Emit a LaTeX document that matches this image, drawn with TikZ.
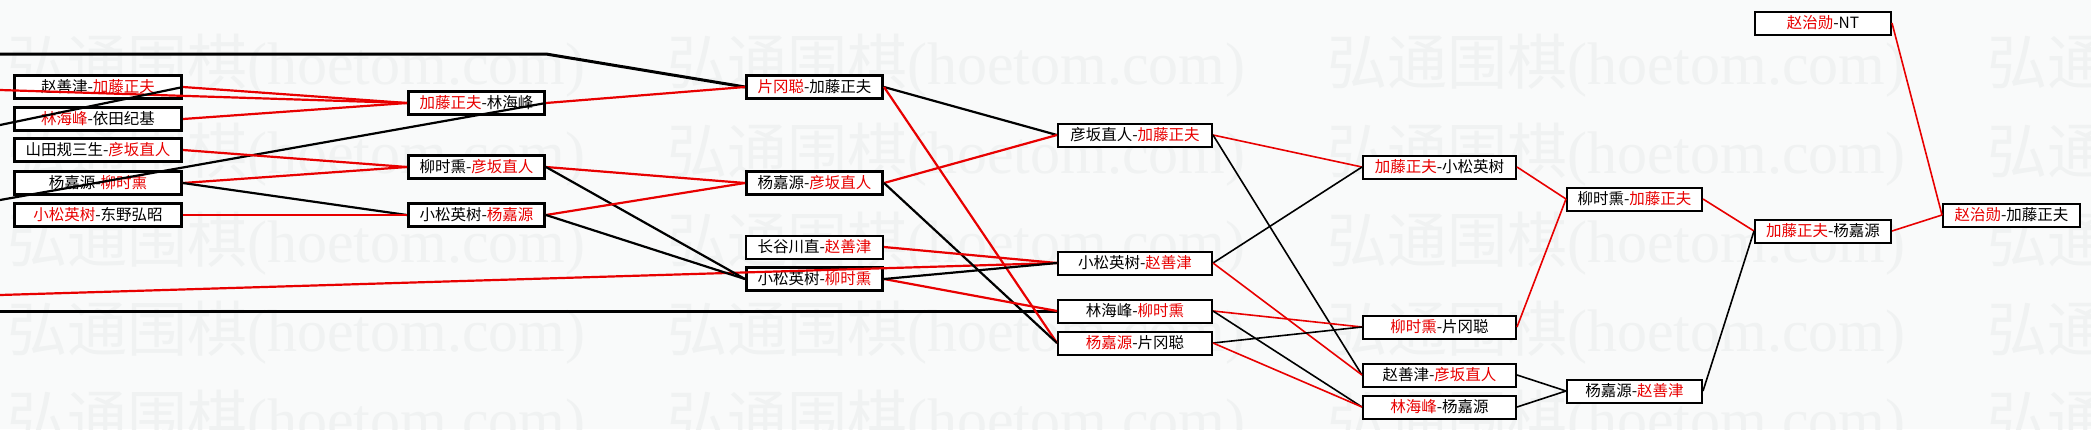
\documentclass[tikz,border=0pt]{standalone}
\usepackage{fontspec}
\setmainfont{Liberation Serif}
\newfontfamily\cjk{Noto Sans CJK SC}
\definecolor{hred}{RGB}{232,0,0}
\definecolor{paper}{RGB}{249,250,250}
\definecolor{wmark}{RGB}{240,242,242}
\newcommand{\wname}[1]{\textcolor{hred}{#1}}

\begin{document}
\begin{tikzpicture}[x=1pt, y=-1pt,
    game/.style={draw, fill=white, line width=2pt, inner sep=0pt, minimum height=23pt,
      font=\cjk\fontsize{15.5}{16}\selectfont},
    boldgame/.style={game, line width=3pt},
    win/.style={draw=hred, line width=2.2pt},
    lose/.style={draw=black, line width=2.2pt},
    thin/.style={line width=1.6pt}]
  \useasboundingbox (0,0) rectangle (2091,429);
  \begin{scope}
    \clip (0,0) rectangle (2091,429);
    \fill[paper] (0,0) rectangle (2091,429);
    \foreach \wy in {66,155,244,333,422}
      \foreach \wx in {7,667,1327,1987}
        \node[name=wm-\wy-\wx, anchor=west, inner sep=0pt, text=wmark,
          font=\fontsize{60}{60}\selectfont] at (\wx,\wy) {{\cjk 弘通围棋}(hoetom.com)};
  \end{scope}

  \node[boldgame, minimum width=167pt] (r1a) at (98,87)  {赵善津-\wname{加藤正夫}};
  \node[boldgame, minimum width=167pt] (r1b) at (98,119) {\wname{林海峰}-依田纪基};
  \node[boldgame, minimum width=167pt] (r1c) at (98,150) {山田规三生-\wname{彦坂直人}};
  \node[boldgame, minimum width=167pt] (r1d) at (98,183) {杨嘉源-\wname{柳时熏}};
  \node[boldgame, minimum width=167pt] (r1e) at (98,215) {\wname{小松英树}-东野弘昭};

  \node[boldgame, minimum width=136pt] (r2a) at (476.5,103) {\wname{加藤正夫}-林海峰};
  \node[boldgame, minimum width=136pt] (r2b) at (476.5,167) {柳时熏-\wname{彦坂直人}};
  \node[boldgame, minimum width=136pt] (r2c) at (476.5,215) {小松英树-\wname{杨嘉源}};

  \node[boldgame, minimum width=136pt] (r3a) at (814.5,87)  {\wname{片冈聪}-加藤正夫};
  \node[boldgame, minimum width=136pt] (r3b) at (814.5,183) {杨嘉源-\wname{彦坂直人}};
  \node[game, minimum width=137pt]     (r3c) at (814.5,247) {长谷川直-\wname{赵善津}};
  \node[boldgame, minimum width=136pt] (r3d) at (814.5,279) {小松英树-\wname{柳时熏}};

  \node[game, minimum width=154pt] (r4a) at (1135,135) {彦坂直人-\wname{加藤正夫}};
  \node[game, minimum width=154pt] (r4b) at (1135,263) {小松英树-\wname{赵善津}};
  \node[game, minimum width=154pt] (r4c) at (1135,311) {林海峰-\wname{柳时熏}};
  \node[game, minimum width=154pt] (r4d) at (1135,343) {\wname{杨嘉源}-片冈聪};

  \node[game, minimum width=153pt] (r5a) at (1439.5,167) {\wname{加藤正夫}-小松英树};
  \node[game, minimum width=153pt] (r5b) at (1439.5,327) {\wname{柳时熏}-片冈聪};
  \node[game, minimum width=153pt] (r5c) at (1439.5,375) {赵善津-\wname{彦坂直人}};
  \node[game, minimum width=153pt] (r5d) at (1439.5,407) {\wname{林海峰}-杨嘉源};

  \node[game, minimum width=135pt] (r6a) at (1634.5,199) {柳时熏-\wname{加藤正夫}};
  \node[game, minimum width=135pt] (r6b) at (1634.5,391) {杨嘉源-\wname{赵善津}};

  \node[game, minimum width=136pt] (r7a) at (1823,231) {\wname{加藤正夫}-杨嘉源};
  \node[game, minimum width=136pt] (r7b) at (1823,23)  {\wname{赵治勋}-NT};

  \node[game, minimum width=137pt] (r8a) at (2011.5,215) {\wname{赵治勋}-加藤正夫};

  \coordinate (in1) at (0,54);
  \coordinate (bend1) at (546,54);
  \coordinate (in2) at (0,90);
  \coordinate (out1) at (0,125);
  \coordinate (out2) at (0,200);
  \coordinate (in3) at (0,295);
  \coordinate (in4) at (0,311);

  \draw[lose, line width=3pt] (in1) -- (bend1) -- (r3a.west);
  \draw[win] (in2) -- (r2a.west);
  \draw[lose] (r1a.east) -- (out1);
  \draw[lose] (r2a.east) -- (out2);
  \draw[win] (in3) -- (r4b.west);
  \draw[lose, line width=3pt] (in4) -- (r4c.west);

  \draw[win] (r1a.east) -- (r2a.west);
  \draw[win] (r1b.east) -- (r2a.west);
  \draw[win] (r1c.east) -- (r2b.west);
  \draw[win] (r1d.east) -- (r2b.west);
  \draw[lose] (r1d.east) -- (r2c.west);
  \draw[win] (r1e.east) -- (r2c.west);

  \draw[win] (r2a.east) -- (r3a.west);
  \draw[win] (r2b.east) -- (r3b.west);
  \draw[lose] (r2b.east) -- (r3d.west);
  \draw[win] (r2c.east) -- (r3b.west);
  \draw[lose] (r2c.east) -- (r3d.west);

  \draw[lose] (r3a.east) -- (r4a.west);
  \draw[win] (r3a.east) -- (r4d.west);
  \draw[win] (r3b.east) -- (r4a.west);
  \draw[lose] (r3b.east) -- (r4d.west);
  \draw[win] (r3c.east) -- (r4b.west);
  \draw[win] (r3d.east) -- (r4c.west);
  \draw[lose] (r3d.east) -- (r4b.west);

  \draw[win, thin] (r4a.east) -- (r5a.west);
  \draw[lose, thin] (r4a.east) -- (r5c.west);
  \draw[lose, thin] (r4b.east) -- (r5a.west);
  \draw[win, thin] (r4b.east) -- (r5c.west);
  \draw[win, thin] (r4c.east) -- (r5b.west);
  \draw[lose, thin] (r4c.east) -- (r5d.west);
  \draw[lose, thin] (r4d.east) -- (r5b.west);
  \draw[win, thin] (r4d.east) -- (r5d.west);

  \draw[win, thin] (r5a.east) -- (r6a.west);
  \draw[win, thin] (r5b.east) -- (r6a.west);
  \draw[lose, thin] (r5c.east) -- (r6b.west);
  \draw[lose, thin] (r5d.east) -- (r6b.west);

  \draw[win, thin] (r6a.east) -- (r7a.west);
  \draw[lose, thin] (r6b.east) -- (r7a.west);
  \draw[win, thin] (r7a.east) -- (r8a.west);
  \draw[win, thin] (r7b.east) -- (r8a.west);
\end{tikzpicture}
\end{document}
